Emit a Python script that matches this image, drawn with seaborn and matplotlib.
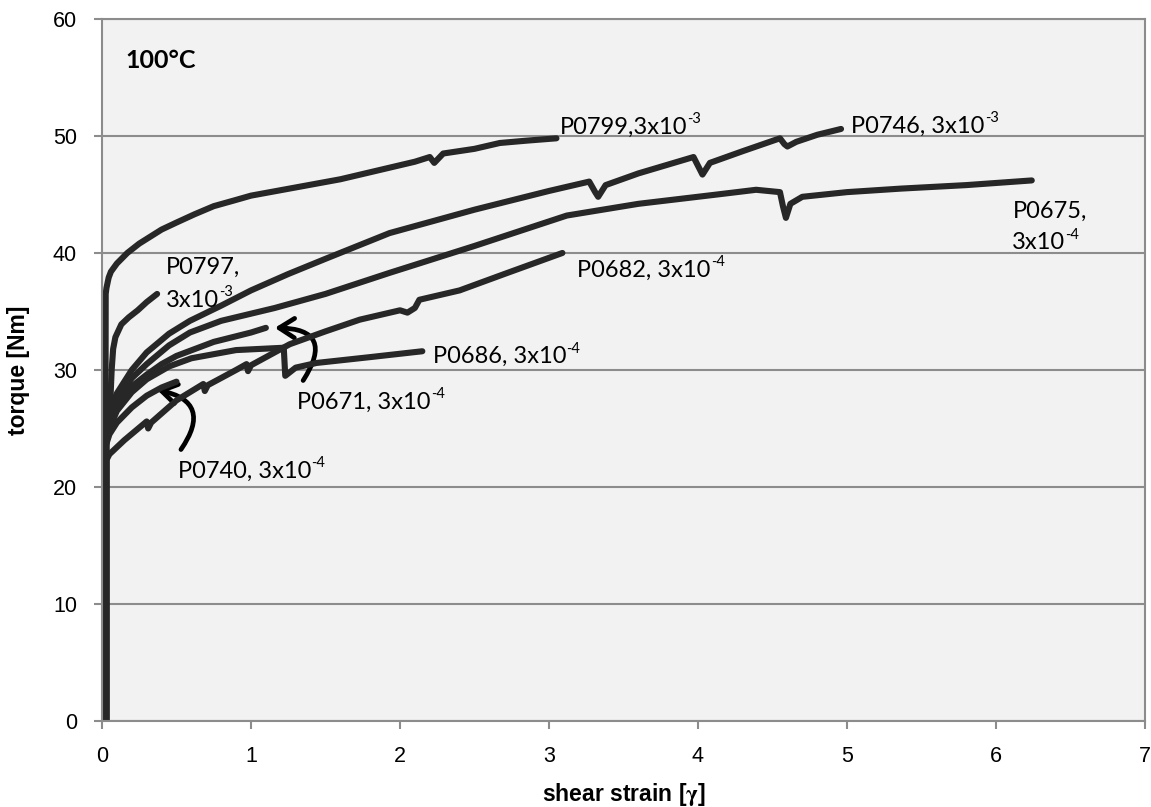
import matplotlib
matplotlib.use('Agg')
import matplotlib.pyplot as plt
import matplotlib.transforms as mtransforms
import seaborn as sns
import pandas as pd
from matplotlib.patches import FancyArrowPatch

# ---------------- data ----------------
p0799_x = [0.02, 0.025, 0.03, 0.045, 0.06, 0.1, 0.17, 0.25, 0.4, 0.5, 0.62, 0.75, 0.89, 1.0, 1.3, 1.6, 1.9, 2.1, 2.2, 2.23, 2.26, 2.29, 2.5, 2.67, 2.85, 3.05]
p0799_y = [0, 36.5, 37.0, 37.9, 38.4, 39.1, 40.0, 40.8, 42.0, 42.6, 43.3, 44.0, 44.5, 44.9, 45.6, 46.3, 47.2, 47.8, 48.2, 47.7, 48.1, 48.5, 48.9, 49.4, 49.6, 49.8]

p0746_x = [0.03, 0.03, 0.05, 0.1, 0.2, 0.3, 0.45, 0.59, 0.8, 1.0, 1.25, 1.5, 1.93, 2.5, 3.0, 3.27, 3.31, 3.33, 3.38, 3.6, 3.97, 4.01, 4.03, 4.08, 4.3, 4.55, 4.58, 4.6, 4.66, 4.8, 4.96]
p0746_y = [0, 25.0, 26.5, 28.0, 30.0, 31.5, 33.1, 34.2, 35.5, 36.8, 38.2, 39.5, 41.7, 43.7, 45.3, 46.1, 45.2, 44.8, 45.8, 46.8, 48.2, 47.2, 46.7, 47.7, 48.7, 49.8, 49.3, 49.1, 49.5, 50.1, 50.6]

p0675_x = [0.025, 0.025, 0.05, 0.1, 0.2, 0.3, 0.45, 0.59, 0.8, 1.16, 1.5, 1.93, 2.5, 3.12, 3.6, 4.13, 4.39, 4.55, 4.57, 4.59, 4.62, 4.7, 5.0, 5.36, 5.8, 6.24]
p0675_y = [0, 25.0, 26.0, 27.5, 29.3, 30.5, 32.1, 33.2, 34.2, 35.3, 36.5, 38.3, 40.6, 43.2, 44.2, 45.0, 45.4, 45.2, 44.0, 43.0, 44.2, 44.8, 45.2, 45.5, 45.8, 46.2]

p0682_x = [0.03, 0.03, 0.05, 0.15, 0.3, 0.31, 0.33, 0.5, 0.68, 0.69, 0.71, 0.9, 0.97, 0.98, 1.0, 1.26, 1.5, 1.73, 2.0, 2.05, 2.1, 2.13, 2.4, 2.7, 3.09]
p0682_y = [0, 22.3, 22.8, 24.0, 25.6, 25.0, 25.5, 27.4, 28.8, 28.2, 28.7, 30.0, 30.5, 29.9, 30.4, 32.2, 33.3, 34.3, 35.1, 34.9, 35.3, 36.0, 36.8, 38.2, 40.0]

p0686_x = [0.025, 0.025, 0.05, 0.1, 0.2, 0.3, 0.45, 0.6, 0.9, 1.22, 1.23, 1.25, 1.3, 1.44, 1.8, 2.15]
p0686_y = [0, 24.0, 25.0, 26.5, 28.1, 29.2, 30.3, 31.0, 31.7, 31.9, 29.5, 29.7, 30.2, 30.6, 31.1, 31.6]

p0671_x = [0.02, 0.02, 0.05, 0.1, 0.2, 0.3, 0.4, 0.5, 0.75, 1.0, 1.1]
p0671_y = [0, 24.5, 25.5, 27.0, 28.6, 29.6, 30.5, 31.2, 32.4, 33.2, 33.6]

p0797_x = [0.03, 0.03, 0.05, 0.065, 0.075, 0.09, 0.13, 0.18, 0.24, 0.3, 0.37]
p0797_y = [0, 24.0, 25.5, 30.0, 31.8, 32.8, 33.9, 34.5, 35.1, 35.8, 36.5]

p0740_x = [0.025, 0.025, 0.05, 0.1, 0.2, 0.3, 0.4, 0.5]
p0740_y = [0, 23.5, 24.5, 25.5, 26.8, 27.8, 28.5, 29.0]

samples = ['P0799', 'P0746', 'P0675', 'P0682', 'P0686', 'P0671', 'P0797', 'P0740']
xs = [p0799_x, p0746_x, p0675_x, p0682_x, p0686_x, p0671_x, p0797_x, p0740_x]
ys = [p0799_y, p0746_y, p0675_y, p0682_y, p0686_y, p0671_y, p0797_y, p0740_y]

x_ticks = [0, 1, 2, 3, 4, 5, 6, 7]
y_ticks = [0, 10, 20, 30, 40, 50, 60]

frames = []
for name, xv, yv in zip(samples, xs, ys):
    frames.append(pd.DataFrame({'strain': xv, 'torque': yv, 'sample': name}))
df = pd.concat(frames, ignore_index=True)

# ---------------- style ----------------
sns.set_theme(style='white')
plt.rcParams['font.family'] = ['Liberation Sans', 'DejaVu Sans']
plt.rcParams['mathtext.fontset'] = 'stix'

fig = plt.figure(figsize=(11.51, 8.07), dpi=100)
ax = fig.add_axes([0.0886, 0.1066, 0.9062, 0.8699])
ax.set_facecolor('#f2f2f2')
ax.set_axisbelow(True)

line_col = '#272727'
sns.lineplot(data=df, x='strain', y='torque', units='sample', estimator=None,
             sort=False, color=line_col, lw=4.4, ax=ax, legend=False,
             solid_capstyle='round', solid_joinstyle='round')

ax.set_xlim(0, 7)
ax.set_ylim(0, 60)
ax.set_xticks(x_ticks)
ax.set_yticks(y_ticks)
ax.yaxis.grid(True, color='#8c8c8c', lw=1.5)
ax.xaxis.grid(False)
for s in ax.spines.values():
    s.set_color('#8c8c8c')
    s.set_linewidth(1.5)
ax.tick_params(axis='both', which='major', bottom=True, left=True, direction='out',
               length=6, width=1.5, color='#8c8c8c', labelsize=15.5, pad=12,
               labelcolor='black')

ax.set_xlabel(r'shear strain [$\mathbf{\gamma}$]', fontsize=16.5, fontweight='bold', color='black')
ax.set_ylabel('torque [Nm]', fontsize=16.5, fontweight='bold', color='black')
ax.xaxis.set_label_coords(0.5, -0.085)
ax.yaxis.set_label_coords(-0.069, 0.5)

# ---------------- annotations ----------------
afs = 17
afam = 'Lato'
renderer = fig.canvas.get_renderer()

def label(x, y, s, sup=None):
    t = ax.text(x, y, s, fontsize=afs, family=afam, color='black',
                ha='left', va='baseline')
    if sup:
        bb = t.get_window_extent(renderer=renderer)
        w_pts = bb.width * 72.0 / fig.dpi
        tr = mtransforms.offset_copy(ax.transData, fig=fig, x=w_pts, y=7.5, units='points')
        ax.text(x, y, sup, fontsize=afs * 0.62, family=afam, color='black',
                ha='left', va='baseline', transform=tr)

label(3.07, 50.2, 'P0799,3x10', '-3')
label(5.03, 50.3, 'P0746, 3x10', '-3')
label(6.11, 43.0, 'P0675,')
label(6.11, 40.3, '3x10', '-4')
label(3.19, 38.0, 'P0682, 3x10', '-4')
label(0.43, 38.2, 'P0797,')
label(0.43, 35.4, '3x10', '-3')
label(2.22, 30.6, 'P0686, 3x10', '-4')
label(1.31, 26.7, 'P0671, 3x10', '-4')
label(0.51, 20.8, 'P0740, 3x10', '-4')
ax.text(0.154, 55.8, '100°C', fontsize=18, family=afam, fontweight='bold',
        color='black', ha='left', va='baseline')

# curved arrows
for tail, tip, rad in [((1.35, 29.1), (1.16, 33.6), 0.9),
                       ((0.53, 23.2), (0.37, 28.3), 0.75)]:
    arr = FancyArrowPatch(posA=tail, posB=tip, connectionstyle=f'arc3,rad={rad}',
                          arrowstyle='->,head_length=0.55,head_width=0.35',
                          mutation_scale=20, lw=3.4, color='black',
                          shrinkA=0, shrinkB=0, capstyle='round')
    ax.add_patch(arr)

fig.savefig('out.png', dpi=100, facecolor='white')
